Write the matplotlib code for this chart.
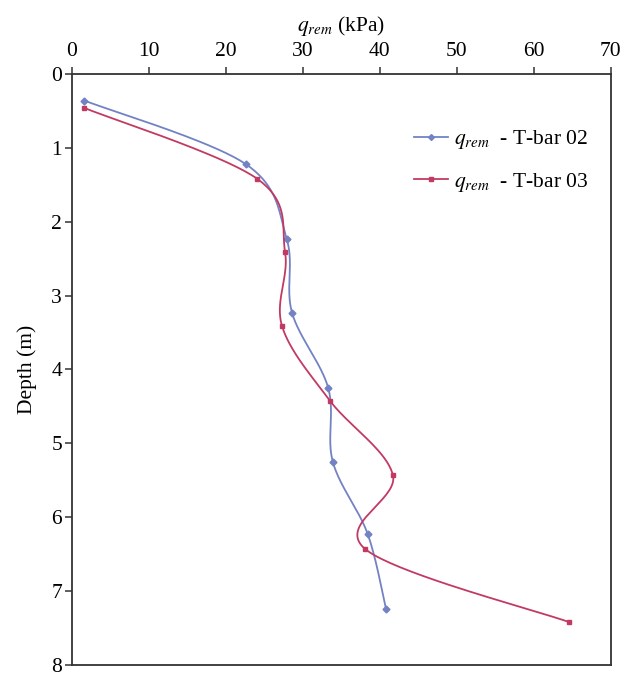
import numpy as np
import matplotlib.pyplot as plt

plt.rcParams['font.family'] = ['Liberation Serif', 'DejaVu Serif']
plt.rcParams['mathtext.fontset'] = 'stix'

# remoulded strength profiles
depth_02 = [0.36, 1.22, 2.23, 3.23, 4.25, 5.25, 6.22, 7.24]
qrem_02 = [1.65, 22.6, 27.9, 28.6, 33.3, 33.9, 38.4, 40.8]

depth_03 = [0.46, 1.42, 2.41, 3.41, 4.42, 5.43, 6.43, 7.42]
qrem_03 = [1.65, 24.1, 27.7, 27.3, 33.5, 41.7, 38.1, 64.6]

x_ticks = [0, 10, 20, 30, 40, 50, 60, 70]
y_ticks = [0, 1, 2, 3, 4, 5, 6, 7, 8]


def smooth(x, y, n=40):
    # Excel-like smoothed line (uniform Catmull-Rom through the points)
    p = np.column_stack([x, y]).astype(float)
    p = np.vstack([p[0], p, p[-1]])
    out = []
    t = np.linspace(0, 1, n)[:, None]
    for i in range(1, len(p) - 2):
        p0, p1, p2, p3 = p[i - 1], p[i], p[i + 1], p[i + 2]
        c1 = p1 + (p2 - p0) / 6
        c2 = p2 - (p3 - p1) / 6
        seg = ((1 - t) ** 3) * p1 + 3 * ((1 - t) ** 2) * t * c1 + 3 * (1 - t) * t ** 2 * c2 + t ** 3 * p2
        out.append(seg)
    out = np.vstack(out)
    return out[:, 0], out[:, 1]


blue = '#7382c4'
red = '#c23a62'

fig = plt.figure(figsize=(6.31, 6.75), dpi=100)
ax = fig.add_axes([0.1136, 0.0148, 0.8546, 0.8756])

sx, sy = smooth(qrem_02, depth_02)
ax.plot(sx, sy, color=blue, lw=1.3)
ax.plot(qrem_02, depth_02, ls='none', marker='D', ms=3.5, color=blue)
ax.plot([], [], color=blue, lw=1.3, marker='D', ms=3, label=r'$q_{rem}$  - T-bar 02')

sx, sy = smooth(qrem_03, depth_03)
ax.plot(sx, sy, color=red, lw=1.3)
ax.plot(qrem_03, depth_03, ls='none', marker='s', ms=3.5, color=red)
ax.plot([], [], color=red, lw=1.3, marker='s', ms=3, label=r'$q_{rem}$  - T-bar 03')

ax.set_xlim(0, 70)
ax.set_ylim(8, 0)
ax.set_xticks(x_ticks)
ax.set_yticks(y_ticks)
ax.xaxis.tick_top()
ax.xaxis.set_label_position('top')
ax.set_xlabel(r'$q_{rem}$ (kPa)', fontsize=15.5, labelpad=8)
ax.set_ylabel('Depth (m)', fontsize=15.5, labelpad=10)
ax.tick_params(axis='x', direction='out', length=5, width=1.1, labelsize=15.5, pad=4, color='#333333')
ax.tick_params(axis='y', direction='out', length=5, width=1.1, labelsize=15.5, pad=2, color='#333333')
for s in ax.spines.values():
    s.set_linewidth(1.3)
    s.set_color('#333333')

ax.legend(loc='upper left', bbox_to_anchor=(0.634, 0.908), frameon=False, fontsize=15.5,
          handlelength=1.6, handletextpad=0.3, labelspacing=0.9, borderpad=0, borderaxespad=0)

fig.savefig('out.png', dpi=100)
